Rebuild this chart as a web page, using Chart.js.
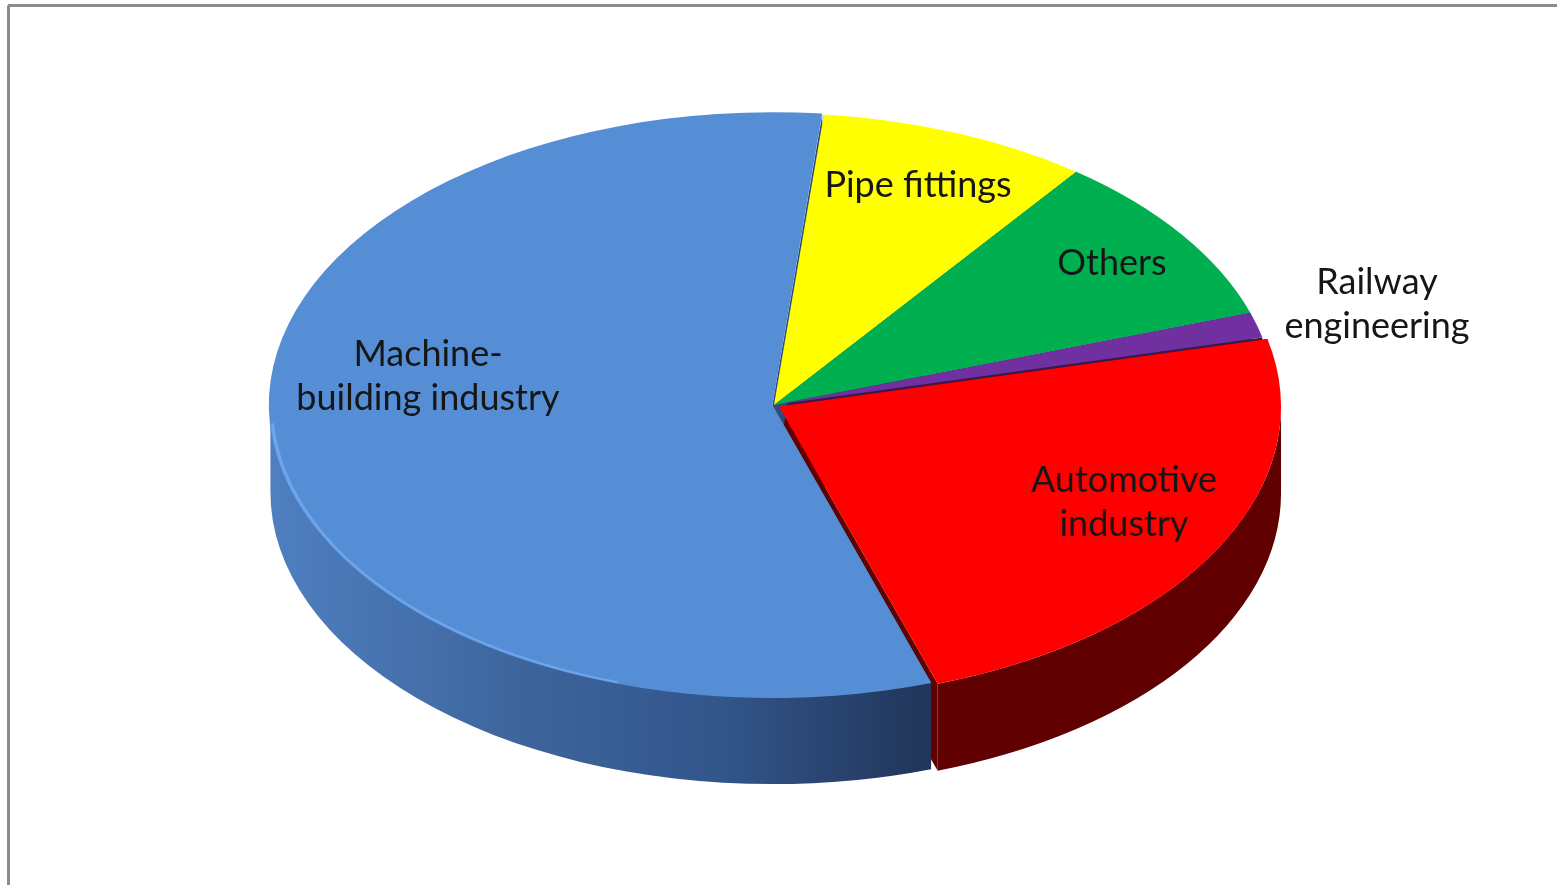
<!DOCTYPE html>
<html>
<head>
<meta charset="utf-8">
<script src="https://cdn.jsdelivr.net/npm/chart.js@4.4.1/dist/chart.umd.min.js"></script>
<style>
  html, body { margin: 0; padding: 0; background: #fff; }
  #wrap { width: 1557px; height: 885px; }
</style>
</head>
<body>
<div id="wrap"><canvas id="pie" width="1557" height="885"></canvas></div>
<script>
// sectors, clockwise from just past 12 o'clock
const sectors = [['Pipe fittings'], ['Others'], ['Railway', 'engineering'], ['Automotive', 'industry'], ['Machine-', 'building industry']];
const shares  = [8.7, 9.6, 1.4, 23.6, 56.7];

const topColors  = ['#ffff00', '#00b050', '#7030a0', '#ff0000', '#558ed5'];
const sideColors = ['#7f7f00', '#00582a', '#381850', '#600000', null]; // null -> shaded blue
const explode    = [0, 0, 0, 18, 5];

// disc placement on the page (tilted view)
const PIE = { cx: 774, cy: 405, rx: 502, ry: 292, depth: 87 };
const labelAt = [[918, 185], [1112, 263], [1377, 304], [1124, 502], [428, 376]];
const LINE_H = 44;

function frameOf(chart) {
  const arc = chart.getDatasetMeta(0).data[0];
  return { x: arc.x, y: arc.y, R: arc.outerRadius };
}

// squash the round pie into the tilted ellipse
function toDisc(ctx, f) {
  ctx.translate(PIE.cx, PIE.cy);
  ctx.scale(PIE.rx / f.R, PIE.ry / f.R);
  ctx.translate(-f.x, -f.y);
}

// same shift ArcElement applies for `offset`
function shiftOf(arc) {
  const o = (arc.options.offset || 0) / 4;
  const mid = (arc.startAngle + arc.endAngle) / 2;
  return [Math.cos(mid) * o, Math.sin(mid) * o];
}

// parts of [s, e] that face the viewer (lower half of the rim)
function frontSpans(s, e) {
  const out = [];
  for (let k = -1; k <= 1; k++) {
    const a = Math.max(s, k * 2 * Math.PI);
    const b = Math.min(e, k * 2 * Math.PI + Math.PI);
    if (b > a) out.push([a, b]);
  }
  return out;
}

function sideFill(ctx, i, f) {
  if (sideColors[i]) return sideColors[i];
  const g = ctx.createLinearGradient(f.x - f.R, 0, f.x + f.R, 0);
  g.addColorStop(0, '#4f7fc0');
  g.addColorStop(0.25, '#3d659c');
  g.addColorStop(0.45, '#32558a');
  g.addColorStop(0.65, '#21365a');
  return g;
}

const framePlugin = {
  id: 'frame',
  beforeDraw(chart) {
    const ctx = chart.ctx;
    ctx.save();
    ctx.fillStyle = '#fff';
    ctx.fillRect(0, 0, chart.width, chart.height);
    ctx.strokeStyle = '#8c8c8c';
    ctx.lineWidth = 3;
    ctx.beginPath();
    ctx.moveTo(8, 5.5); ctx.lineTo(chart.width, 5.5);
    ctx.moveTo(8.5, 5.5); ctx.lineTo(8.5, chart.height);
    ctx.stroke();
    ctx.restore();
  },
};

const discPlugin = {
  id: 'disc',
  beforeDatasetsDraw(chart) {
    const ctx = chart.ctx;
    const arcs = chart.getDatasetMeta(0).data;
    const f = frameOf(chart);
    const D = PIE.depth * f.R / PIE.ry;
    ctx.save();
    toDisc(ctx, f);

    // radial cut faces, only seen where slices are pulled apart
    arcs.forEach((arc, i) => {
      const [dx, dy] = shiftOf(arc);
      ctx.fillStyle = sideFill(ctx, i, f);
      [arc.startAngle, arc.endAngle].forEach(t => {
        const px = arc.x + dx + Math.cos(t) * f.R;
        const py = arc.y + dy + Math.sin(t) * f.R;
        ctx.beginPath();
        ctx.moveTo(arc.x + dx, arc.y + dy);
        ctx.lineTo(px, py);
        ctx.lineTo(px, py + D);
        ctx.lineTo(arc.x + dx, arc.y + dy + D);
        ctx.closePath();
        ctx.fill();
      });
    });

    // outer rim walls
    arcs.forEach((arc, i) => {
      const [dx, dy] = shiftOf(arc);
      ctx.fillStyle = sideFill(ctx, i, f);
      frontSpans(arc.startAngle, arc.endAngle).forEach(([a, b]) => {
        ctx.beginPath();
        ctx.arc(arc.x + dx, arc.y + dy, f.R, a, b);
        ctx.arc(arc.x + dx, arc.y + dy + D, f.R, b, a, true);
        ctx.closePath();
        ctx.fill();
      });
    });
    // leave the transform on so the library draws the tops squashed
  },
  afterDatasetsDraw(chart) {
    const ctx = chart.ctx;
    const arcs = chart.getDatasetMeta(0).data;
    const f = frameOf(chart);
    const big = arcs[arcs.length - 1];
    const [dx, dy] = shiftOf(big);
    // soft highlight along the front edge of the blue top
    ctx.strokeStyle = 'rgba(120,175,245,0.7)';
    ctx.lineWidth = 2 * f.R / PIE.ry;
    ctx.beginPath();
    ctx.arc(big.x + dx, big.y + dy, f.R - 0.8, Math.PI * 0.6, Math.PI * 0.98);
    ctx.stroke();
    ctx.restore();
  },
};

const labelPlugin = {
  id: 'sliceLabels',
  afterDraw(chart) {
    const ctx = chart.ctx;
    ctx.save();
    ctx.font = '36px Lato, "Liberation Sans", sans-serif';
    ctx.fillStyle = '#161616';
    ctx.textAlign = 'center';
    ctx.textBaseline = 'middle';
    chart.data.labels.forEach((lines, i) => {
      const [x, y] = labelAt[i];
      const top = y - (lines.length - 1) * LINE_H / 2;
      lines.forEach((t, j) => ctx.fillText(t, x, top + j * LINE_H));
    });
    ctx.restore();
  },
};

new Chart(document.getElementById('pie'), {
  type: 'pie',
  data: {
    labels: sectors,
    datasets: [{
      data: shares,
      backgroundColor: topColors,
      borderWidth: 0,
      offset: explode,
    }],
  },
  options: {
    responsive: false,
    animation: false,
    rotation: 5.7,
    layout: { padding: 40 },
    plugins: {
      legend: { display: false },
      tooltip: { enabled: false },
    },
  },
  plugins: [framePlugin, discPlugin, labelPlugin],
});
</script>
</body>
</html>
